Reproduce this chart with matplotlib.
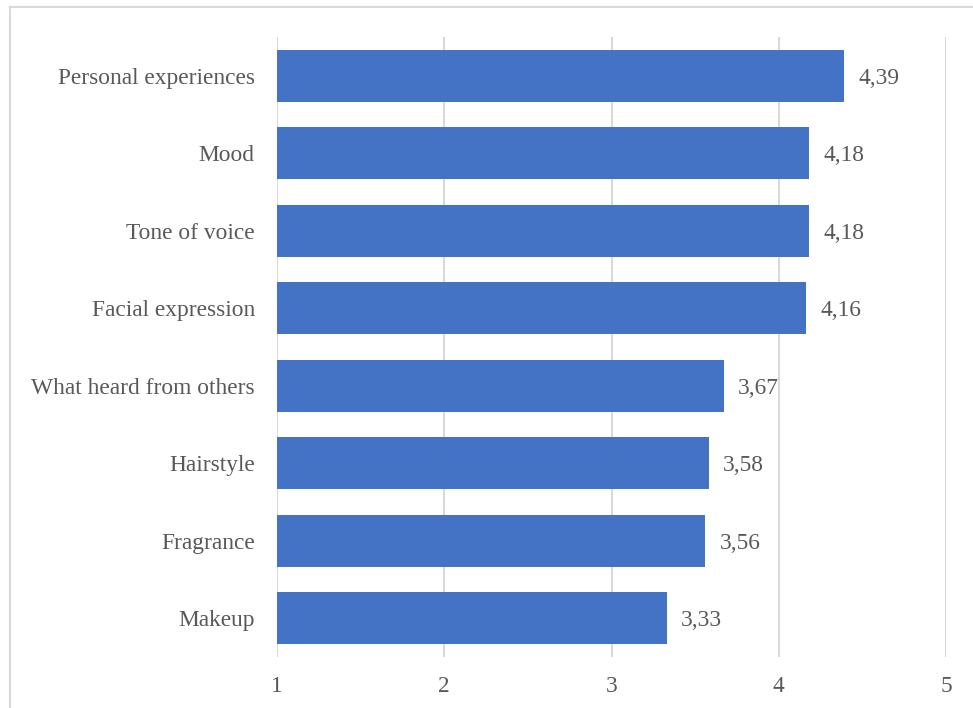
import matplotlib
matplotlib.use("Agg")
import matplotlib.pyplot as plt
from matplotlib.lines import Line2D

categories = ["Personal experiences", "Mood", "Tone of voice", "Facial expression",
              "What heard from others", "Hairstyle", "Fragrance", "Makeup"]
values = [4.39, 4.18, 4.18, 4.16, 3.67, 3.58, 3.56, 3.33]
x_ticks = [1, 2, 3, 4, 5]

plt.rcParams["font.family"] = ["Liberation Serif", "DejaVu Serif"]
text_color = "#595959"
grid_color = "#D9D9D9"
bar_color = "#4472C4"
fs = 16.8

fig = plt.figure(figsize=(9.73, 7.08), dpi=100)
ax = fig.add_axes([277 / 973, 1 - 657 / 708, (946 - 277) / 973, (657 - 37) / 708])

ypos = list(range(len(categories)))
ax.barh(ypos, [v - 1 for v in values], left=1, height=0.67, color=bar_color, zorder=2)

for y, v in zip(ypos, values):
    ax.annotate(f"{v:.2f}".replace(".", ","), xy=(v, y), xytext=(10.5, 0),
                textcoords="offset points", va="center_baseline", ha="left",
                fontsize=fs, color=text_color)

ax.set_xlim(1, 5)
ax.set_ylim(len(categories) - 0.5, -0.5)
ax.set_yticks(ypos)
ax.set_yticklabels(categories)
ax.set_xticks(x_ticks)
ax.set_xticklabels([str(t) for t in x_ticks])
ax.tick_params(axis="both", length=0, labelsize=fs, labelcolor=text_color)
ax.tick_params(axis="y", pad=16)
ax.tick_params(axis="x", pad=14)
ax.xaxis.grid(True, color=grid_color, linewidth=1.5, zorder=0)
ax.set_axisbelow(True)
for s in ax.spines.values():
    s.set_visible(False)

# outer chart frame (top and left edges)
frame_kw = dict(color=grid_color, linewidth=1.5, transform=fig.transFigure)
fig.add_artist(Line2D([10 / 973, 1], [1 - 7 / 708, 1 - 7 / 708], **frame_kw))
fig.add_artist(Line2D([10 / 973, 10 / 973], [1 - 7 / 708, 0], **frame_kw))

fig.savefig("out.png", dpi=100, facecolor="white")
